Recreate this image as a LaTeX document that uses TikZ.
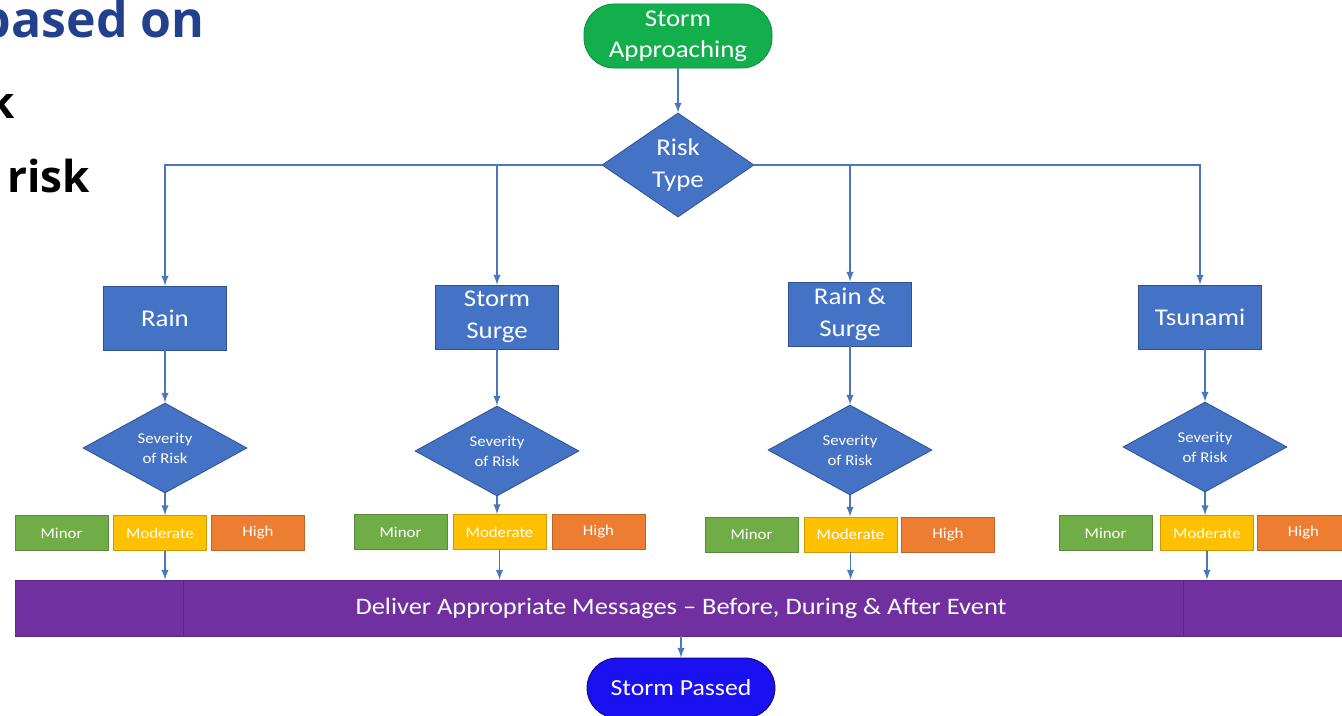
\documentclass[tikz,border=0pt]{standalone}
\usepackage{fontspec}
\setmainfont{Carlito}[FakeStretch=1.12]
\newfontfamily\headfont{Open Sans}
\usetikzlibrary{arrows,shapes.geometric}
\definecolor{startgreen}{HTML}{12AF4C}
\definecolor{boxblue}{HTML}{4472C4}
\definecolor{boxline}{HTML}{2F528F}
\definecolor{lineblue}{HTML}{4A76BE}
\definecolor{minorgreen}{HTML}{70AD47}
\definecolor{modyellow}{HTML}{FFC000}
\definecolor{highorange}{HTML}{ED7D31}
\definecolor{barpurple}{HTML}{7030A0}
\definecolor{endblue}{HTML}{1A10F0}
\definecolor{headblue}{HTML}{22408C}
\tikzset{bx/.append style={draw=boxline, fill=boxblue, text=white, minimum width=61.5pt, minimum height=32pt, inner sep=1pt, align=center, font=\fontsize{12}{16}\selectfont}}
\tikzset{dm/.append style={diamond, draw=boxline, fill=boxblue, text=white, inner sep=0pt, align=center}}
\tikzset{lvl/.append style={draw, text=white, minimum width=46.5pt, minimum height=17.5pt, inner sep=0pt, font=\fontsize{7.5}{9}\selectfont}}
\tikzset{term/.append style={rounded corners=15pt, minimum width=94pt, minimum height=30pt, text=white, align=center, font=\fontsize{12}{15.5}\selectfont}}
\tikzset{ln/.append style={draw=lineblue, line width=0.7pt, ->, >=latex}}

\begin{document}
\begin{tikzpicture}[x=0.5pt,y=-0.5pt]
                \useasboundingbox (0,0) rectangle (1342,716);
                \clip (0,0) rectangle (1342,716);
                % slide text cut at the left
                \node[anchor=base east, inner sep=0pt, text=headblue, font=\headfont\bfseries\fontsize{25}{30}\selectfont] (hd1) at (205,38) {based on};
                \node[anchor=base east, inner sep=0pt, font=\headfont\bfseries\fontsize{22}{26}\selectfont] (hd2) at (15,119) {k};
                \node[anchor=base west, inner sep=0pt, font=\headfont\bfseries\fontsize{22}{26}\selectfont] (hd3) at (7,193) {risk};
                % start and risk type
                \node[term, fill=startgreen, draw=startgreen!80!black] (start) at (678,36) {Storm\\Approaching};
                \node[dm, minimum width=76pt, minimum height=45pt, font=\fontsize{12}{16}\selectfont] (risk) at (678,165) {Risk\\Type};
                % risk types
                \node[bx] (rain) at (165,318) {Rain};
                \node[bx] (surge) at (497,317) {Storm\\Surge};
                \node[bx] (rainsurge) at (850,314) {Rain \&\\Surge};
                \node[bx] (tsunami) at (1200,317) {Tsunami};
                % severity
                \node[dm, minimum width=82pt, minimum height=45pt, font=\fontsize{7.5}{10}\selectfont] (sev1) at (165,448) {Severity\\of Risk};
                \node[dm, minimum width=82pt, minimum height=45pt, font=\fontsize{7.5}{10}\selectfont] (sev2) at (497,451) {Severity\\of Risk};
                \node[dm, minimum width=82pt, minimum height=45pt, font=\fontsize{7.5}{10}\selectfont] (sev3) at (850,450) {Severity\\of Risk};
                \node[dm, minimum width=82pt, minimum height=45pt, font=\fontsize{7.5}{10}\selectfont] (sev4) at (1205,447) {Severity\\of Risk};
                % levels
                \node[lvl, fill=minorgreen, draw=minorgreen!80!black] (min1) at (61.5,533) {Minor};
                \node[lvl, fill=modyellow, draw=modyellow!80!black] (mod1) at (160,533) {Moderate};
                \node[lvl, fill=highorange, draw=highorange!80!black] (hi1) at (258,533) {High};
                \node[lvl, fill=minorgreen, draw=minorgreen!80!black] (min2) at (400.5,532) {Minor};
                \node[lvl, fill=modyellow, draw=modyellow!80!black] (mod2) at (499.5,532) {Moderate};
                \node[lvl, fill=highorange, draw=highorange!80!black] (hi2) at (598.5,532) {High};
                \node[lvl, fill=minorgreen, draw=minorgreen!80!black] (min3) at (751.5,534.5) {Minor};
                \node[lvl, fill=modyellow, draw=modyellow!80!black] (mod3) at (850.5,534.5) {Moderate};
                \node[lvl, fill=highorange, draw=highorange!80!black] (hi3) at (948,534.5) {High};
                \node[lvl, fill=minorgreen, draw=minorgreen!80!black] (min4) at (1105.5,533) {Minor};
                \node[lvl, fill=modyellow, draw=modyellow!80!black] (mod4) at (1207,533) {Moderate};
                \node[lvl, fill=highorange, draw=highorange!80!black] (hi4) at (1303.5,533) {High};
                % messages and end
                \node[fill=barpurple, draw=barpurple!85!black, text=white, minimum width=666pt, minimum height=28pt, inner sep=0pt, font=\fontsize{11.8}{14}\selectfont] (bar) at (681,608) {Deliver Appropriate Messages -- Before, During \& After Event};
                \draw[barpurple!80!black, line width=0.4pt] (183,581) -- (183,635) (1183,581) -- (1183,635);
                \node[term, fill=endblue, draw=endblue!40!black, font=\fontsize{11.5}{14}\selectfont] (stop) at (681,688) {Storm Passed};
                % connectors
                \draw[ln] (start) -- (risk);
                \draw[ln] (risk.west) -| (rain);
                \draw[ln] (risk.west) -| (surge);
                \draw[ln] (risk.east) -| (rainsurge);
                \draw[ln] (risk.east) -| (tsunami);
                \draw[ln] (rain) -- (sev1);
                \draw[ln] (surge) -- (sev2);
                \draw[ln] (rainsurge) -- (sev3);
                \draw[ln] (tsunami.south -| sev4) -- (sev4);
                \draw[ln] (sev1.south) -- (sev1.south |- mod1.north);
                \draw[ln] (sev2.south) -- (sev2.south |- mod2.north);
                \draw[ln] (sev3.south) -- (sev3.south |- mod3.north);
                \draw[ln] (sev4.south) -- (sev4.south |- mod4.north);
                \draw[ln] (sev1.south |- mod1.south) -- (sev1.south |- bar.north);
                \draw[ln] (mod2.south) -- (mod2.south |- bar.north);
                \draw[ln] (mod3.south) -- (mod3.south |- bar.north);
                \draw[ln] (mod4.south) -- (mod4.south |- bar.north);
                \draw[ln] (bar.south -| stop) -- (stop);
            \end{tikzpicture}
\end{document}
